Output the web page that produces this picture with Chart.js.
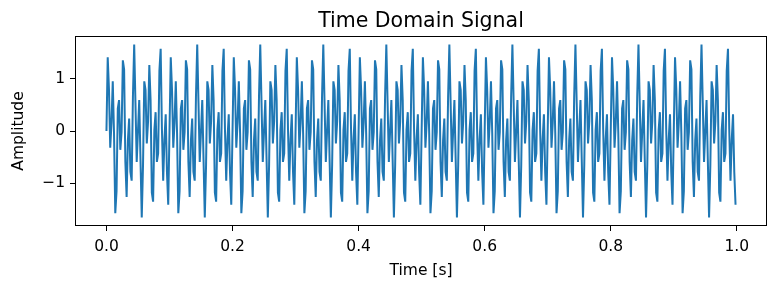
<!DOCTYPE html>
<html>
<head>
<meta charset="utf-8">
<script src="https://cdn.jsdelivr.net/npm/chart.js@4"></script>
<style>
  html, body { margin: 0; padding: 0; background: #fff; }
  #wrap { width: 774px; height: 286px; }
</style>
</head>
<body>
<div id="wrap"><canvas id="signalChart" width="774" height="286"></canvas></div>
<script>
// ====== DATA ======
const TIMES = [
  0.000,0.002,0.004,0.006,0.008,0.010,0.012,0.014,0.016,0.018,0.020,0.022,0.024,0.026,0.028,0.030,0.032,0.034,0.036,0.038,0.040,0.042,0.044,0.046,0.048,0.050,0.052,0.054,0.056,0.058,0.060,0.062,0.064,0.066,0.068,0.070,0.072,0.074,0.076,0.078,0.080,0.082,0.084,0.086,0.088,0.090,0.092,0.094,0.096,0.098,
  0.100,0.102,0.104,0.106,0.108,0.110,0.112,0.114,0.116,0.118,0.120,0.122,0.124,0.126,0.128,0.130,0.132,0.134,0.136,0.138,0.140,0.142,0.144,0.146,0.148,0.150,0.152,0.154,0.156,0.158,0.160,0.162,0.164,0.166,0.168,0.170,0.172,0.174,0.176,0.178,0.180,0.182,0.184,0.186,0.188,0.190,0.192,0.194,0.196,0.198,
  0.200,0.202,0.204,0.206,0.208,0.210,0.212,0.214,0.216,0.218,0.220,0.222,0.224,0.226,0.228,0.230,0.232,0.234,0.236,0.238,0.240,0.242,0.244,0.246,0.248,0.250,0.252,0.254,0.256,0.258,0.260,0.262,0.264,0.266,0.268,0.270,0.272,0.274,0.276,0.278,0.280,0.282,0.284,0.286,0.288,0.290,0.292,0.294,0.296,0.298,
  0.300,0.302,0.304,0.306,0.308,0.310,0.312,0.314,0.316,0.318,0.320,0.322,0.324,0.326,0.328,0.330,0.332,0.334,0.336,0.338,0.340,0.342,0.344,0.346,0.348,0.350,0.352,0.354,0.356,0.358,0.360,0.362,0.364,0.366,0.368,0.370,0.372,0.374,0.376,0.378,0.380,0.382,0.384,0.386,0.388,0.390,0.392,0.394,0.396,0.398,
  0.400,0.402,0.404,0.406,0.408,0.410,0.412,0.414,0.416,0.418,0.420,0.422,0.424,0.426,0.428,0.430,0.432,0.434,0.436,0.438,0.440,0.442,0.444,0.446,0.448,0.450,0.452,0.454,0.456,0.458,0.460,0.462,0.464,0.466,0.468,0.470,0.472,0.474,0.476,0.478,0.480,0.482,0.484,0.486,0.488,0.490,0.492,0.494,0.496,0.498,
  0.500,0.502,0.504,0.506,0.508,0.510,0.512,0.514,0.516,0.518,0.520,0.522,0.524,0.526,0.528,0.530,0.532,0.534,0.536,0.538,0.540,0.542,0.544,0.546,0.548,0.550,0.552,0.554,0.556,0.558,0.560,0.562,0.564,0.566,0.568,0.570,0.572,0.574,0.576,0.578,0.580,0.582,0.584,0.586,0.588,0.590,0.592,0.594,0.596,0.598,
  0.600,0.602,0.604,0.606,0.608,0.610,0.612,0.614,0.616,0.618,0.620,0.622,0.624,0.626,0.628,0.630,0.632,0.634,0.636,0.638,0.640,0.642,0.644,0.646,0.648,0.650,0.652,0.654,0.656,0.658,0.660,0.662,0.664,0.666,0.668,0.670,0.672,0.674,0.676,0.678,0.680,0.682,0.684,0.686,0.688,0.690,0.692,0.694,0.696,0.698,
  0.700,0.702,0.704,0.706,0.708,0.710,0.712,0.714,0.716,0.718,0.720,0.722,0.724,0.726,0.728,0.730,0.732,0.734,0.736,0.738,0.740,0.742,0.744,0.746,0.748,0.750,0.752,0.754,0.756,0.758,0.760,0.762,0.764,0.766,0.768,0.770,0.772,0.774,0.776,0.778,0.780,0.782,0.784,0.786,0.788,0.790,0.792,0.794,0.796,0.798,
  0.800,0.802,0.804,0.806,0.808,0.810,0.812,0.814,0.816,0.818,0.820,0.822,0.824,0.826,0.828,0.830,0.832,0.834,0.836,0.838,0.840,0.842,0.844,0.846,0.848,0.850,0.852,0.854,0.856,0.858,0.860,0.862,0.864,0.866,0.868,0.870,0.872,0.874,0.876,0.878,0.880,0.882,0.884,0.886,0.888,0.890,0.892,0.894,0.896,0.898,
  0.900,0.902,0.904,0.906,0.908,0.910,0.912,0.914,0.916,0.918,0.920,0.922,0.924,0.926,0.928,0.930,0.932,0.934,0.936,0.938,0.940,0.942,0.944,0.946,0.948,0.950,0.952,0.954,0.956,0.958,0.960,0.962,0.964,0.966,0.968,0.970,0.972,0.974,0.976,0.978,0.980,0.982,0.984,0.986,0.988,0.990,0.992,0.994,0.996,0.998
];

const AMPLITUDE = [
  0,1.41,0.79,-0.32,0.16,0.95,-0.04,-1.57,-1.15,0.43,0.59,-0.36,-0.02,1.35,1.18,-0.59,-1.26,-0.18,0.24,-0.78,-0.95,0.66,1.65,0.54,-0.59,0,0.59,-0.54,-1.65,-0.66,0.95,0.78,-0.24,0.18,1.26,0.59,-1.18,-1.35,0.02,0.36,-0.59,-0.43,1.15,1.57,0.04,-0.95,-0.16,0.32,-0.79,-1.41,
  0,1.41,0.79,-0.32,0.16,0.95,-0.04,-1.57,-1.15,0.43,0.59,-0.36,-0.02,1.35,1.18,-0.59,-1.26,-0.18,0.24,-0.78,-0.95,0.66,1.65,0.54,-0.59,0,0.59,-0.54,-1.65,-0.66,0.95,0.78,-0.24,0.18,1.26,0.59,-1.18,-1.35,0.02,0.36,-0.59,-0.43,1.15,1.57,0.04,-0.95,-0.16,0.32,-0.79,-1.41,
  0,1.41,0.79,-0.32,0.16,0.95,-0.04,-1.57,-1.15,0.43,0.59,-0.36,-0.02,1.35,1.18,-0.59,-1.26,-0.18,0.24,-0.78,-0.95,0.66,1.65,0.54,-0.59,0,0.59,-0.54,-1.65,-0.66,0.95,0.78,-0.24,0.18,1.26,0.59,-1.18,-1.35,0.02,0.36,-0.59,-0.43,1.15,1.57,0.04,-0.95,-0.16,0.32,-0.79,-1.41,
  0,1.41,0.79,-0.32,0.16,0.95,-0.04,-1.57,-1.15,0.43,0.59,-0.36,-0.02,1.35,1.18,-0.59,-1.26,-0.18,0.24,-0.78,-0.95,0.66,1.65,0.54,-0.59,0,0.59,-0.54,-1.65,-0.66,0.95,0.78,-0.24,0.18,1.26,0.59,-1.18,-1.35,0.02,0.36,-0.59,-0.43,1.15,1.57,0.04,-0.95,-0.16,0.32,-0.79,-1.41,
  0,1.41,0.79,-0.32,0.16,0.95,-0.04,-1.57,-1.15,0.43,0.59,-0.36,-0.02,1.35,1.18,-0.59,-1.26,-0.18,0.24,-0.78,-0.95,0.66,1.65,0.54,-0.59,0,0.59,-0.54,-1.65,-0.66,0.95,0.78,-0.24,0.18,1.26,0.59,-1.18,-1.35,0.02,0.36,-0.59,-0.43,1.15,1.57,0.04,-0.95,-0.16,0.32,-0.79,-1.41,
  0,1.41,0.79,-0.32,0.16,0.95,-0.04,-1.57,-1.15,0.43,0.59,-0.36,-0.02,1.35,1.18,-0.59,-1.26,-0.18,0.24,-0.78,-0.95,0.66,1.65,0.54,-0.59,0,0.59,-0.54,-1.65,-0.66,0.95,0.78,-0.24,0.18,1.26,0.59,-1.18,-1.35,0.02,0.36,-0.59,-0.43,1.15,1.57,0.04,-0.95,-0.16,0.32,-0.79,-1.41,
  0,1.41,0.79,-0.32,0.16,0.95,-0.04,-1.57,-1.15,0.43,0.59,-0.36,-0.02,1.35,1.18,-0.59,-1.26,-0.18,0.24,-0.78,-0.95,0.66,1.65,0.54,-0.59,0,0.59,-0.54,-1.65,-0.66,0.95,0.78,-0.24,0.18,1.26,0.59,-1.18,-1.35,0.02,0.36,-0.59,-0.43,1.15,1.57,0.04,-0.95,-0.16,0.32,-0.79,-1.41,
  0,1.41,0.79,-0.32,0.16,0.95,-0.04,-1.57,-1.15,0.43,0.59,-0.36,-0.02,1.35,1.18,-0.59,-1.26,-0.18,0.24,-0.78,-0.95,0.66,1.65,0.54,-0.59,0,0.59,-0.54,-1.65,-0.66,0.95,0.78,-0.24,0.18,1.26,0.59,-1.18,-1.35,0.02,0.36,-0.59,-0.43,1.15,1.57,0.04,-0.95,-0.16,0.32,-0.79,-1.41,
  0,1.41,0.79,-0.32,0.16,0.95,-0.04,-1.57,-1.15,0.43,0.59,-0.36,-0.02,1.35,1.18,-0.59,-1.26,-0.18,0.24,-0.78,-0.95,0.66,1.65,0.54,-0.59,0,0.59,-0.54,-1.65,-0.66,0.95,0.78,-0.24,0.18,1.26,0.59,-1.18,-1.35,0.02,0.36,-0.59,-0.43,1.15,1.57,0.04,-0.95,-0.16,0.32,-0.79,-1.41,
  0,1.41,0.79,-0.32,0.16,0.95,-0.04,-1.57,-1.15,0.43,0.59,-0.36,-0.02,1.35,1.18,-0.59,-1.26,-0.18,0.24,-0.78,-0.95,0.66,1.65,0.54,-0.59,0,0.59,-0.54,-1.65,-0.66,0.95,0.78,-0.24,0.18,1.26,0.59,-1.18,-1.35,0.02,0.36,-0.59,-0.43,1.15,1.57,0.04,-0.95,-0.16,0.32,-0.79,-1.41
];

const X_TICKS = [0, 0.2, 0.4, 0.6, 0.8, 1.0];
const Y_TICKS = [-1, 0, 1];

// ====== LAYOUT ======
const FONT = "'DejaVu Sans', 'Liberation Sans', sans-serif";
const LINE_BLUE = '#1f77b4';
const TICK_SIZE = 15.5;

// matplotlib-style 5% margins round the data
const tMin = Math.min(...TIMES), tMax = Math.max(...TIMES);
const aMin = Math.min(...AMPLITUDE), aMax = Math.max(...AMPLITUDE);
const tPad = (tMax - tMin) * 0.05, aPad = (aMax - aMin) * 0.05;

// title, axis labels and the closed frame
const decorations = {
  id: 'decorations',
  afterDraw(chart) {
    const { ctx, chartArea: a } = chart;
    ctx.save();
    ctx.strokeStyle = '#000';
    ctx.lineWidth = 1;
    ctx.strokeRect(Math.round(a.left) + 0.5, Math.round(a.top) + 0.5,
      Math.round(a.right - a.left) - 1, Math.round(a.bottom - a.top) - 1);

    const cx = (a.left + a.right) / 2;
    ctx.fillStyle = '#000';
    ctx.textAlign = 'center';
    ctx.textBaseline = 'alphabetic';
    ctx.font = `20.5px ${FONT}`;
    ctx.fillText('Time Domain Signal', cx, 27);

    ctx.font = `${TICK_SIZE}px ${FONT}`;
    ctx.textBaseline = 'middle';
    ctx.fillText('Time [s]', cx, 271);

    ctx.translate(19, (a.top + a.bottom) / 2);
    ctx.rotate(-Math.PI / 2);
    ctx.fillText('Amplitude', 0, 0);
    ctx.restore();
  }
};

new Chart(document.getElementById('signalChart'), {
  type: 'line',
  data: {
    datasets: [{
      data: TIMES.map((t, i) => ({ x: t, y: AMPLITUDE[i] })),
      borderColor: LINE_BLUE,
      borderWidth: 2,
      pointRadius: 0,
      tension: 0,
      fill: false,
    }]
  },
  options: {
    responsive: false,
    animation: false,
    layout: { padding: { left: 0, top: 36, right: 7, bottom: 0 } },
    plugins: { legend: { display: false }, tooltip: { enabled: false }, title: { display: false } },
    scales: {
      x: {
        type: 'linear',
        min: tMin - tPad, max: tMax + tPad,
        afterBuildTicks: s => { s.ticks = X_TICKS.map(v => ({ value: v })); },
        afterFit: s => { s.height = 60; },
        border: { display: false },
        grid: { drawOnChartArea: false, drawTicks: true, tickLength: 5, color: '#000', lineWidth: 1 },
        ticks: { color: '#000', font: { family: FONT, size: TICK_SIZE }, padding: 7, maxRotation: 0, autoSkip: false,
                 callback: v => v.toFixed(1) }
      },
      y: {
        min: aMin - aPad, max: aMax + aPad,
        afterBuildTicks: s => { s.ticks = Y_TICKS.map(v => ({ value: v })); },
        afterFit: s => { s.width = 75; },
        border: { display: false },
        grid: { drawOnChartArea: false, drawTicks: true, tickLength: 5, color: '#000', lineWidth: 1 },
        ticks: { color: '#000', font: { family: FONT, size: TICK_SIZE }, padding: 5, autoSkip: false,
                 callback: v => (v < 0 ? '\u2212' + Math.abs(v) : String(v)) }
      }
    }
  },
  plugins: [decorations]
});
</script>
</body>
</html>
